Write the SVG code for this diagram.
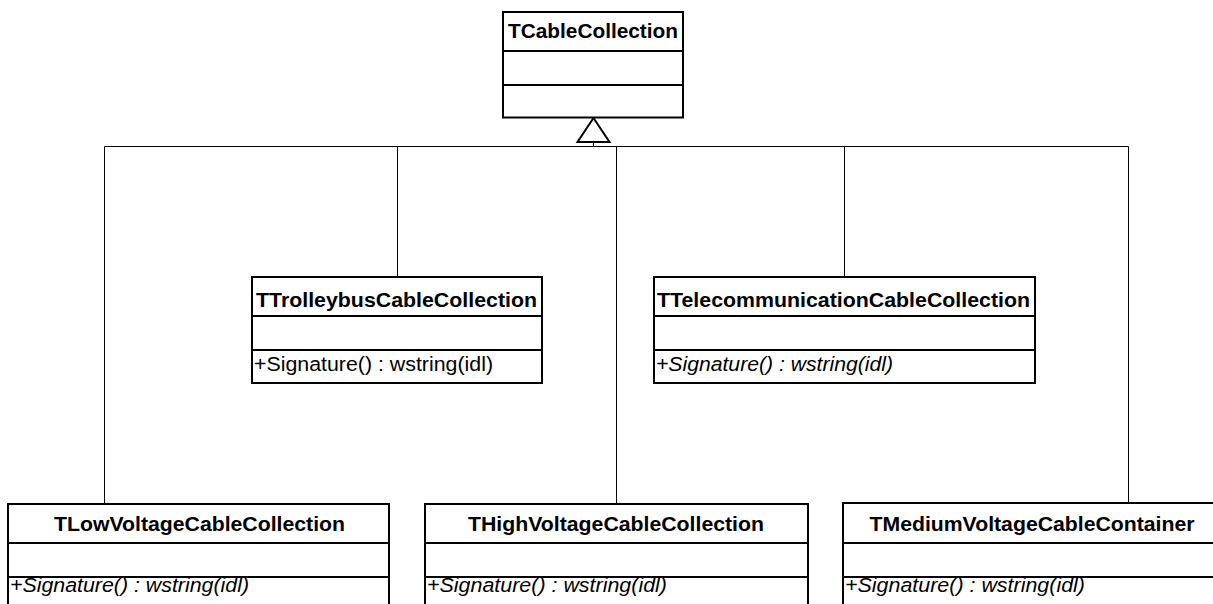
<svg xmlns="http://www.w3.org/2000/svg" width="1213" height="604" viewBox="0 0 1213 604">
<style>
.box{fill:#fff;stroke:#000;stroke-width:2}
.sep{stroke:#000;stroke-width:2}
.con{fill:none;stroke:#000;stroke-width:1}
.t{font-family:"Liberation Sans",Arial,sans-serif;font-size:20px;font-weight:bold;fill:#000}
.m{font-family:"Liberation Sans",Arial,sans-serif;font-size:20px;fill:#000}
.i{font-style:italic}
</style>
<rect width="1213" height="604" fill="#fff"/>
<g id="connectors">
<path class="con" d="M104.5 146.5H1128.5M593.5 142V146.5M104.5 146.5V504M397.5 146.5V277M616.5 146.5V504M844.5 146.5V277M1128.5 146.5V503"/>
<polygon points="593.5,118 577.5,142 609.5,142" fill="#fff" stroke="#000" stroke-width="2"/>
</g>
<g id="TCableCollection">
<rect class="box" x="503" y="12" width="180" height="105.5"/>
<line class="sep" x1="503" y1="51" x2="683" y2="51"/>
<line class="sep" x1="503" y1="85" x2="683" y2="85"/>
<text class="t" x="593" y="37.5" text-anchor="middle" textLength="170" lengthAdjust="spacingAndGlyphs">TCableCollection</text>
</g>
<g id="TTrolleybusCableCollection">
<rect class="box" x="252" y="277" width="290" height="106"/>
<line class="sep" x1="252" y1="316" x2="542" y2="316"/>
<line class="sep" x1="252" y1="350" x2="542" y2="350"/>
<text class="t" x="256" y="306.5" textLength="281" lengthAdjust="spacingAndGlyphs">TTrolleybusCableCollection</text>
<text class="m" x="254" y="371" textLength="239" lengthAdjust="spacingAndGlyphs">+Signature() : wstring(idl)</text>
</g>
<g id="TTelecommunicationCableCollection">
<rect class="box" x="654" y="277" width="381" height="106"/>
<line class="sep" x1="654" y1="316" x2="1035" y2="316"/>
<line class="sep" x1="654" y1="350" x2="1035" y2="350"/>
<text class="t" x="657" y="306.5" textLength="373" lengthAdjust="spacingAndGlyphs">TTelecommunicationCableCollection</text>
<text class="m i" x="656" y="371" textLength="237" lengthAdjust="spacingAndGlyphs">+Signature() : wstring(idl)</text>
</g>
<g id="TLowVoltageCableCollection">
<rect class="box" x="8" y="504" width="381" height="120"/>
<line class="sep" x1="8" y1="543" x2="389" y2="543"/>
<line class="sep" x1="8" y1="577" x2="389" y2="577"/>
<text class="t" x="199.5" y="530.5" text-anchor="middle" textLength="291" lengthAdjust="spacingAndGlyphs">TLowVoltageCableCollection</text>
<text class="m i" x="10" y="592" textLength="239" lengthAdjust="spacingAndGlyphs">+Signature() : wstring(idl)</text>
</g>
<g id="THighVoltageCableCollection">
<rect class="box" x="425" y="504" width="383" height="120"/>
<line class="sep" x1="425" y1="543" x2="808" y2="543"/>
<line class="sep" x1="425" y1="577" x2="808" y2="577"/>
<text class="t" x="616" y="530.5" text-anchor="middle" textLength="296" lengthAdjust="spacingAndGlyphs">THighVoltageCableCollection</text>
<text class="m i" x="427" y="592" textLength="240" lengthAdjust="spacingAndGlyphs">+Signature() : wstring(idl)</text>
</g>
<g id="TMediumVoltageCableContainer">
<rect class="box" x="843" y="503" width="378" height="120"/>
<line class="sep" x1="843" y1="543" x2="1221" y2="543"/>
<line class="sep" x1="843" y1="577" x2="1221" y2="577"/>
<text class="t" x="1032" y="530.5" text-anchor="middle" textLength="325" lengthAdjust="spacingAndGlyphs">TMediumVoltageCableContainer</text>
<text class="m i" x="845" y="592" textLength="240" lengthAdjust="spacingAndGlyphs">+Signature() : wstring(idl)</text>
</g>
</svg>
